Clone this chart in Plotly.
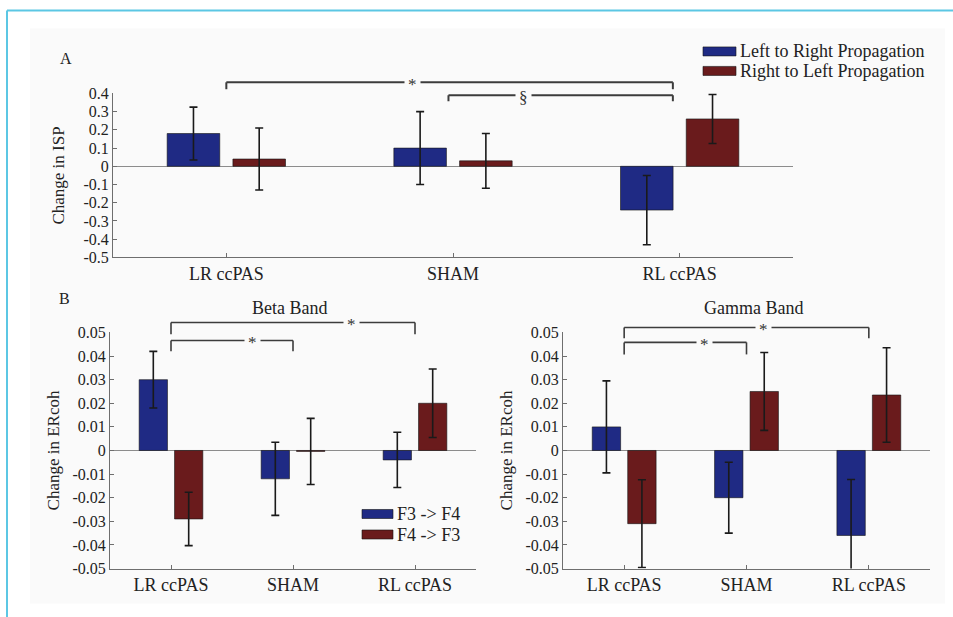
import plotly.graph_objects as go

# ---------------- data ----------------
categories = ["LR ccPAS", "SHAM", "RL ccPAS"]

# Panel A: change in ISP
isp_left_to_right = [0.18, 0.10, -0.24]
isp_left_to_right_err = [0.145, 0.20, 0.19]
isp_right_to_left = [0.04, 0.03, 0.26]
isp_right_to_left_err = [0.17, 0.15, 0.135]

# Panel B: Beta band ERcoh
beta_f3_f4 = [0.030, -0.012, -0.004]
beta_f3_f4_err = [0.012, 0.0155, 0.0117]
beta_f4_f3 = [-0.029, -0.0004, 0.020]
beta_f4_f3_err = [0.0113, 0.014, 0.0145]

# Panel B: Gamma band ERcoh
gamma_f3_f4 = [0.010, -0.020, -0.036]
gamma_f3_f4_err = [0.0195, 0.015, 0.0237]
gamma_f4_f3 = [-0.031, 0.025, 0.0235]
gamma_f4_f3_err = [0.0186, 0.0165, 0.020]

isp_tickvals = [0.4, 0.3, 0.2, 0.1, 0.0, -0.1, -0.2, -0.3, -0.4, -0.5]
isp_ticktext = ["0.4", "0.3", "0.2", "0.1", "0", "-0.1", "-0.2", "-0.3", "-0.4", "-0.5"]
ercoh_tickvals = [0.05, 0.04, 0.03, 0.02, 0.01, 0.0, -0.01, -0.02, -0.03, -0.04, -0.05]
ercoh_ticktext = ["0.05", "0.04", "0.03", "0.02", "0.01", "0", "-0.01", "-0.02",
                  "-0.03", "-0.04", "-0.05"]

# ---------------- style ----------------
W, H = 953, 634
TOP, SCALE = 7.6, 0.973   # observed vertical placement of the page in the photo
BLUE = "#1f2a84"
RED = "#6a1b1c"
FONT = "Liberation Serif"
TXT = "#222222"
AX = "#6e6e6e"
BG = "#fafafa"


def px_x(p):
    return p / W


def px_y(p):
    return 1 - ((p - TOP) / SCALE) / H


# domains (paper)
domA_x = [px_x(113), px_x(793)]
domA_y = [px_y(257), px_y(93)]
rngA = [-0.5, 0.4]
domB_x = [px_x(110), px_x(476)]
domC_x = [px_x(563), px_x(930)]
domBC_y = [px_y(568), px_y(332)]
rngB = [-0.05, 0.05]


def to_paper(v, dom, rng):
    return dom[0] + (v - rng[0]) / (rng[1] - rng[0]) * (dom[1] - dom[0])


fig = go.Figure()


def add_pair(xa, ya, v1, e1, v2, e2, n1, n2):
    for vals, errs, col, name in ((v1, e1, BLUE, n1), (v2, e2, RED, n2)):
        fig.add_trace(go.Bar(
            x=categories, y=vals, name=name, xaxis=xa, yaxis=ya,
            marker=dict(color=col, line=dict(color="#141414", width=0.6)),
            error_y=dict(type="data", array=errs, visible=True,
                         color="#1a1a1a", thickness=1.6, width=4),
            showlegend=False,
        ))


add_pair("x", "y", isp_left_to_right, isp_left_to_right_err,
         isp_right_to_left, isp_right_to_left_err,
         "Left to Right Propagation", "Right to Left Propagation")
add_pair("x2", "y2", beta_f3_f4, beta_f3_f4_err, beta_f4_f3, beta_f4_f3_err,
         "F3 -> F4", "F4 -> F3")
add_pair("x3", "y3", gamma_f3_f4, gamma_f3_f4_err, gamma_f4_f3, gamma_f4_f3_err,
         "F3 -> F4", "F4 -> F3")


def xaxis(dom, anchor):
    return dict(domain=dom, anchor=anchor, type="category", range=[-0.5, 2.5],
                showline=True, linecolor=AX, linewidth=1, ticks="inside",
                ticklen=4, tickcolor=AX, showgrid=False, zeroline=False,
                tickfont=dict(family=FONT, size=18, color=TXT), fixedrange=True)


def yaxis(dom, anchor, rng, tv, tt, title, standoff):
    return dict(domain=dom, anchor=anchor, range=rng, tickvals=tv, ticktext=tt,
                showline=True, linecolor=AX, linewidth=1, ticks="inside",
                ticklen=4, tickcolor=AX, showgrid=False, zeroline=True,
                zerolinecolor="#8c8c8c", zerolinewidth=1,
                tickfont=dict(family=FONT, size=16, color=TXT),
                title=dict(text=title, font=dict(family=FONT, size=17, color=TXT),
                           standoff=standoff),
                fixedrange=True)


shapes = []
annotations = []

# background panel and frame
shapes.append(dict(type="rect", xref="paper", yref="paper", x0=px_x(30), x1=px_x(945),
                   y0=px_y(603), y1=px_y(28), fillcolor=BG, line=dict(width=0),
                   layer="below"))
shapes.append(dict(type="line", xref="paper", yref="paper", x0=px_x(7), x1=px_x(7),
                   y0=0, y1=px_y(10), line=dict(color="#5cc7e4", width=2)))
shapes.append(dict(type="line", xref="paper", yref="paper", x0=px_x(7), x1=1,
                   y0=px_y(10), y1=px_y(10), line=dict(color="#5cc7e4", width=2)))


def bracket(xref, dom, rng, x0, x1, top, foot, label, lx, lw):
    yt = to_paper(top, dom, rng)
    yf = to_paper(foot, dom, rng)
    ln = dict(color="#3c3c3c", width=lw)
    shapes.append(dict(type="line", xref=xref, yref="paper", x0=x0, x1=x1, y0=yt, y1=yt, line=ln))
    shapes.append(dict(type="line", xref=xref, yref="paper", x0=x0, x1=x0, y0=yt, y1=yf, line=ln))
    shapes.append(dict(type="line", xref=xref, yref="paper", x0=x1, x1=x1, y0=yt, y1=yf, line=ln))
    annotations.append(dict(xref=xref, yref="paper", x=lx, y=yt, text=label,
                            showarrow=False, bgcolor=BG, borderpad=3,
                            font=dict(family=FONT, size=17, color="#333"),
                            xanchor="center", yanchor="middle", yshift=-2))


bracket("x", domA_y, rngA, 0, 1.97, 0.461, 0.423, "*", 0.82, 2)
bracket("x", domA_y, rngA, 0.98, 1.97, 0.39, 0.357, "§", 1.31, 2)
bracket("x2", domBC_y, rngB, 0, 2, 0.0542, 0.0492, "*", 1.48, 1.6)
bracket("x2", domBC_y, rngB, 0, 1, 0.0466, 0.042, "*", 0.67, 1.6)
bracket("x3", domBC_y, rngB, 0, 2, 0.0521, 0.0475, "*", 1.135, 1.6)
bracket("x3", domBC_y, rngB, 0, 1, 0.0458, 0.0407, "*", 0.66, 1.6)


def legend_entry(x0, x1, yc, h, col, text):
    shapes.append(dict(type="rect", xref="paper", yref="paper",
                       x0=px_x(x0), x1=px_x(x1), y0=px_y(yc + h / 2), y1=px_y(yc - h / 2),
                       fillcolor=col, line=dict(color="#141414", width=0.6)))
    annotations.append(dict(xref="paper", yref="paper", x=px_x(x1 + 2), y=px_y(yc),
                            text=text, showarrow=False, xanchor="left", yanchor="middle",
                            font=dict(family=FONT, size=18, color=TXT)))


legend_entry(703, 736, 51, 9, BLUE, "Left to Right Propagation")
legend_entry(703, 736, 70.5, 9, RED, "Right to Left Propagation")
legend_entry(362, 393, 513.5, 9, BLUE, "F3 -&gt; F4")
legend_entry(362, 393, 534, 9, RED, "F4 -&gt; F3")

# panel letters and titles
for txt, x, y in (("A", 58, 48), ("B", 57, 298)):
    annotations.append(dict(xref="paper", yref="paper", x=px_x(x), y=px_y(y), text=txt,
                            showarrow=False, font=dict(family=FONT, size=16, color=TXT)))
annotations.append(dict(xref="x2 domain", yref="paper", x=0.49, y=px_y(308), text="Beta Band",
                        showarrow=False, font=dict(family=FONT, size=18, color=TXT)))
annotations.append(dict(xref="x3 domain", yref="paper", x=0.52, y=px_y(308), text="Gamma Band",
                        showarrow=False, font=dict(family=FONT, size=18, color=TXT)))

fig.update_layout(
    width=W, height=H, margin=dict(l=0, r=0, t=0, b=0),
    paper_bgcolor="white", plot_bgcolor="white",
    barmode="group", bargap=0.42, bargroupgap=0.2,
    xaxis=xaxis(domA_x, "y"),
    yaxis=yaxis(domA_y, "x", rngA, isp_tickvals, isp_ticktext, "Change in ISP", 14),
    xaxis2=xaxis(domB_x, "y2"),
    yaxis2=yaxis(domBC_y, "x2", rngB, ercoh_tickvals, ercoh_ticktext, "Change in ERcoh", 8),
    xaxis3=xaxis(domC_x, "y3"),
    yaxis3=yaxis(domBC_y, "x3", rngB, ercoh_tickvals, ercoh_ticktext, "Change in ERcoh", 8),
    shapes=shapes, annotations=annotations,
    font=dict(family=FONT, color=TXT),
)

fig.write_html("out.html")
